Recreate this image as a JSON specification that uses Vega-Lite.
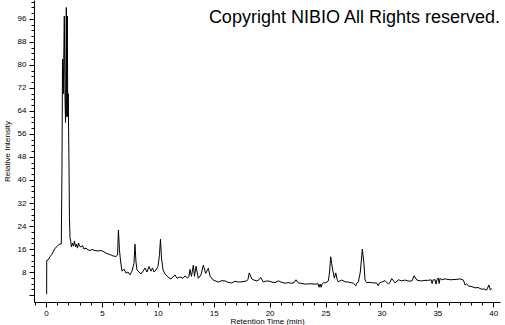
{
  "$schema": "https://vega.github.io/schema/vega-lite/v6.json",
  "width": 466,
  "height": 302,
  "autosize": "none",
  "padding": {"left": 34, "top": 0, "right": 5, "bottom": 23},
  "background": "white",
  "config": {
    "view": {"stroke": null},
    "axis": {
      "domainColor": "black",
      "tickColor": "black",
      "labelColor": "black",
      "titleColor": "black",
      "labelFont": "Liberation Sans",
      "titleFont": "Liberation Sans",
      "labelFontSize": 8,
      "titleFontSize": 8,
      "titleFontWeight": "normal",
      "grid": false,
      "labelOverlap": false,
      "labelBound": false,
      "labelFlush": false,
      "domainWidth": 1,
      "tickWidth": 1,
      "ticks": true
    }
  },
  "data": {
    "values": [
      {"t": 0.06, "v": 0.3}, {"t": 0.07, "v": 12}, {"t": 0.18, "v": 12.2}, {"t": 0.36, "v": 13.3},
      {"t": 0.54, "v": 14.2}, {"t": 0.8, "v": 16.2}, {"t": 0.98, "v": 16.8}, {"t": 1.16, "v": 17.6},
      {"t": 1.37, "v": 17.8}, {"t": 1.43, "v": 43}, {"t": 1.48, "v": 82}, {"t": 1.55, "v": 70},
      {"t": 1.64, "v": 97}, {"t": 1.7, "v": 69}, {"t": 1.75, "v": 60}, {"t": 1.82, "v": 100},
      {"t": 1.86, "v": 62}, {"t": 1.91, "v": 97}, {"t": 1.95, "v": 62}, {"t": 1.99, "v": 70},
      {"t": 2.06, "v": 45}, {"t": 2.1, "v": 27}, {"t": 2.15, "v": 20}, {"t": 2.21, "v": 18.8},
      {"t": 2.28, "v": 16.7}, {"t": 2.37, "v": 18.1}, {"t": 2.46, "v": 17}, {"t": 2.55, "v": 18.8},
      {"t": 2.64, "v": 16.7}, {"t": 2.73, "v": 17.7}, {"t": 2.82, "v": 16.3}, {"t": 2.91, "v": 18.1},
      {"t": 3.0, "v": 17}, {"t": 3.13, "v": 16.7}, {"t": 3.26, "v": 17.2}, {"t": 3.4, "v": 16},
      {"t": 3.58, "v": 16.3}, {"t": 3.76, "v": 15.7}, {"t": 3.94, "v": 15.5}, {"t": 4.11, "v": 15.8},
      {"t": 4.38, "v": 15.5}, {"t": 4.65, "v": 15.3}, {"t": 4.92, "v": 15.5}, {"t": 5.19, "v": 15},
      {"t": 5.46, "v": 14.4}, {"t": 5.72, "v": 14.1}, {"t": 5.99, "v": 13.6}, {"t": 6.26, "v": 13.4},
      {"t": 6.4, "v": 13.9}, {"t": 6.48, "v": 22.6}, {"t": 6.57, "v": 15.7}, {"t": 6.66, "v": 12.2},
      {"t": 6.8, "v": 8.3}, {"t": 6.98, "v": 9.0}, {"t": 7.16, "v": 7.6}, {"t": 7.33, "v": 8},
      {"t": 7.51, "v": 7}, {"t": 7.69, "v": 8.3}, {"t": 7.87, "v": 11}, {"t": 7.96, "v": 17.7},
      {"t": 8.05, "v": 11.5}, {"t": 8.14, "v": 8.7}, {"t": 8.32, "v": 8}, {"t": 8.5, "v": 7.3},
      {"t": 8.68, "v": 8.3}, {"t": 8.86, "v": 9.4}, {"t": 9.03, "v": 8}, {"t": 9.21, "v": 9.9},
      {"t": 9.39, "v": 8.3}, {"t": 9.53, "v": 9.4}, {"t": 9.66, "v": 8}, {"t": 9.84, "v": 8.7},
      {"t": 10.02, "v": 10}, {"t": 10.15, "v": 14}, {"t": 10.24, "v": 19.4}, {"t": 10.33, "v": 12.9},
      {"t": 10.47, "v": 8.7}, {"t": 10.64, "v": 7.3}, {"t": 10.82, "v": 6.6}, {"t": 11.0, "v": 6.0},
      {"t": 11.18, "v": 5.6}, {"t": 11.54, "v": 7}, {"t": 11.72, "v": 5.8}, {"t": 11.99, "v": 6.3},
      {"t": 12.25, "v": 5.8}, {"t": 12.43, "v": 6.6}, {"t": 12.67, "v": 5.9}, {"t": 12.79, "v": 6.5},
      {"t": 12.88, "v": 8.9}, {"t": 13.01, "v": 6.5}, {"t": 13.18, "v": 10.4}, {"t": 13.28, "v": 6.5},
      {"t": 13.42, "v": 10}, {"t": 13.62, "v": 5.8}, {"t": 13.86, "v": 7}, {"t": 14.07, "v": 10.4},
      {"t": 14.28, "v": 7.5}, {"t": 14.52, "v": 9.3}, {"t": 14.67, "v": 6.6}, {"t": 14.96, "v": 5.2},
      {"t": 15.41, "v": 4.5}, {"t": 15.74, "v": 5}, {"t": 16.01, "v": 4.9}, {"t": 16.28, "v": 4.4},
      {"t": 16.61, "v": 4.2}, {"t": 16.91, "v": 4.8}, {"t": 17.2, "v": 4.5}, {"t": 17.53, "v": 4.6},
      {"t": 17.95, "v": 4.9}, {"t": 18.07, "v": 5.5}, {"t": 18.18, "v": 7.7}, {"t": 18.4, "v": 5.6},
      {"t": 18.6, "v": 5.2}, {"t": 18.85, "v": 4.9}, {"t": 19.05, "v": 5.3}, {"t": 19.2, "v": 6.1},
      {"t": 19.44, "v": 4.5}, {"t": 19.63, "v": 4.8}, {"t": 19.88, "v": 4.9}, {"t": 20.21, "v": 4.5},
      {"t": 20.48, "v": 4.3}, {"t": 20.78, "v": 4.9}, {"t": 21.02, "v": 4.5}, {"t": 21.38, "v": 4.1},
      {"t": 21.65, "v": 4.3}, {"t": 21.98, "v": 4.1}, {"t": 22.18, "v": 4.3}, {"t": 22.36, "v": 5.3},
      {"t": 22.57, "v": 4.2}, {"t": 22.9, "v": 4.0}, {"t": 23.17, "v": 3.8}, {"t": 23.61, "v": 3.9},
      {"t": 24.06, "v": 3.8}, {"t": 24.33, "v": 3.9}, {"t": 24.42, "v": 2.7}, {"t": 24.51, "v": 3.8},
      {"t": 24.6, "v": 2.7}, {"t": 24.69, "v": 3.8}, {"t": 24.8, "v": 4.2}, {"t": 25.04, "v": 4.3},
      {"t": 25.25, "v": 4.9}, {"t": 25.36, "v": 8}, {"t": 25.46, "v": 13.3}, {"t": 25.55, "v": 11},
      {"t": 25.64, "v": 8.7}, {"t": 25.79, "v": 5.9}, {"t": 25.91, "v": 7.7}, {"t": 26.03, "v": 5.5},
      {"t": 26.14, "v": 4.6}, {"t": 26.45, "v": 5.2}, {"t": 26.74, "v": 4.6}, {"t": 27.04, "v": 4.5},
      {"t": 27.28, "v": 4.3}, {"t": 27.49, "v": 4.1}, {"t": 27.71, "v": 3.2}, {"t": 27.78, "v": 4.1},
      {"t": 27.93, "v": 4.5}, {"t": 28.11, "v": 8}, {"t": 28.29, "v": 16}, {"t": 28.42, "v": 11.5},
      {"t": 28.53, "v": 5.2}, {"t": 28.68, "v": 4.3}, {"t": 28.89, "v": 4.4}, {"t": 29.13, "v": 4.3},
      {"t": 29.34, "v": 4.2}, {"t": 29.58, "v": 4.1}, {"t": 29.72, "v": 3.2}, {"t": 29.83, "v": 4.2},
      {"t": 30.03, "v": 4.5}, {"t": 30.32, "v": 5}, {"t": 30.62, "v": 3.8}, {"t": 30.77, "v": 4.5},
      {"t": 30.92, "v": 5.7}, {"t": 31.22, "v": 4.2}, {"t": 31.51, "v": 5.3}, {"t": 31.82, "v": 4.9},
      {"t": 32.11, "v": 5.2}, {"t": 32.38, "v": 4.9}, {"t": 32.56, "v": 4.8}, {"t": 32.74, "v": 5.0},
      {"t": 32.92, "v": 6.7}, {"t": 33.16, "v": 5.2}, {"t": 33.36, "v": 5.0}, {"t": 33.6, "v": 4.9},
      {"t": 33.9, "v": 5.1}, {"t": 34.2, "v": 5.1}, {"t": 34.44, "v": 5.3}, {"t": 34.53, "v": 4.0},
      {"t": 34.62, "v": 5.3}, {"t": 34.79, "v": 5.3}, {"t": 34.88, "v": 3.8}, {"t": 34.97, "v": 5.5},
      {"t": 35.09, "v": 5.9}, {"t": 35.15, "v": 4.0}, {"t": 35.24, "v": 5.8}, {"t": 35.39, "v": 5.3},
      {"t": 35.69, "v": 5.6}, {"t": 36.14, "v": 5.3}, {"t": 36.58, "v": 5.4}, {"t": 37.03, "v": 5.6},
      {"t": 37.33, "v": 5.2}, {"t": 37.48, "v": 3.5}, {"t": 37.61, "v": 3.9}, {"t": 37.79, "v": 3.1},
      {"t": 38.01, "v": 3.0}, {"t": 38.37, "v": 2.5}, {"t": 38.64, "v": 2.6}, {"t": 38.97, "v": 2.0},
      {"t": 39.18, "v": 2.1}, {"t": 39.4, "v": 1.7}, {"t": 39.61, "v": 3.5}, {"t": 39.73, "v": 1.7},
      {"t": 39.86, "v": 2.3}
    ]
  },
  "layer": [
    {
      "mark": {"type": "line", "color": "black", "strokeWidth": 1, "interpolate": "linear"},
      "encoding": {
        "x": {
          "field": "t",
          "type": "quantitative",
          "scale": {"domain": [-1.07, 40.6], "nice": false, "zero": false},
          "axis": {
            "title": "Retention Time (min)",
            "values": [-1, -0.5, 0, 0.5, 1, 1.5, 2, 2.5, 3, 3.5, 4, 4.5, 5, 5.5, 6, 6.5, 7, 7.5, 8, 8.5, 9, 9.5, 10, 10.5, 11, 11.5, 12, 12.5, 13, 13.5, 14, 14.5, 15, 15.5, 16, 16.5, 17, 17.5, 18, 18.5, 19, 19.5, 20, 20.5, 21, 21.5, 22, 22.5, 23, 23.5, 24, 24.5, 25, 25.5, 26, 26.5, 27, 27.5, 28, 28.5, 29, 29.5, 30, 30.5, 31, 31.5, 32, 32.5, 33, 33.5, 34, 34.5, 35, 35.5, 36, 36.5, 37, 37.5, 38, 38.5, 39, 39.5, 40, 40.5],
            "tickCount": 1000,
            "format": "d",
            "labelExpr": "datum.value % 5 === 0 ? datum.label : ''",
            "labelOverlap": false,
            "tickSize": {"condition": {"test": "datum.value % 5 === 0", "value": 5}, "value": 3},
            "labelPadding": 2,
            "titlePadding": 0
          }
        },
        "y": {
          "field": "v",
          "type": "quantitative",
          "scale": {"domain": [-2.43, 102.6], "nice": false, "zero": false},
          "axis": {
            "title": "Relative Intensity",
            "values": [0, 2, 4, 6, 8, 10, 12, 14, 16, 18, 20, 22, 24, 26, 28, 30, 32, 34, 36, 38, 40, 42, 44, 46, 48, 50, 52, 54, 56, 58, 60, 62, 64, 66, 68, 70, 72, 74, 76, 78, 80, 82, 84, 86, 88, 90, 92, 94, 96, 98, 100, 102],
            "tickCount": 1000,
            "format": "d",
            "labelExpr": "datum.value % 8 === 0 && datum.value > 0 ? datum.label : ''",
            "labelOverlap": false,
            "tickSize": {"condition": {"test": "datum.value % 8 === 0", "value": 5}, "value": 3},
            "labelPadding": 3,
            "titlePadding": 6
          }
        }
      }
    },
    {
      "data": {"values": [{"label": "Copyright NIBIO All Rights reserved."}]},
      "mark": {"type": "text", "align": "right", "baseline": "alphabetic", "font": "Liberation Sans", "fontSize": 18, "color": "black"},
      "encoding": {
        "x": {"datum": 40.6},
        "y": {"datum": 94.7},
        "text": {"field": "label"}
      }
    }
  ]
}
